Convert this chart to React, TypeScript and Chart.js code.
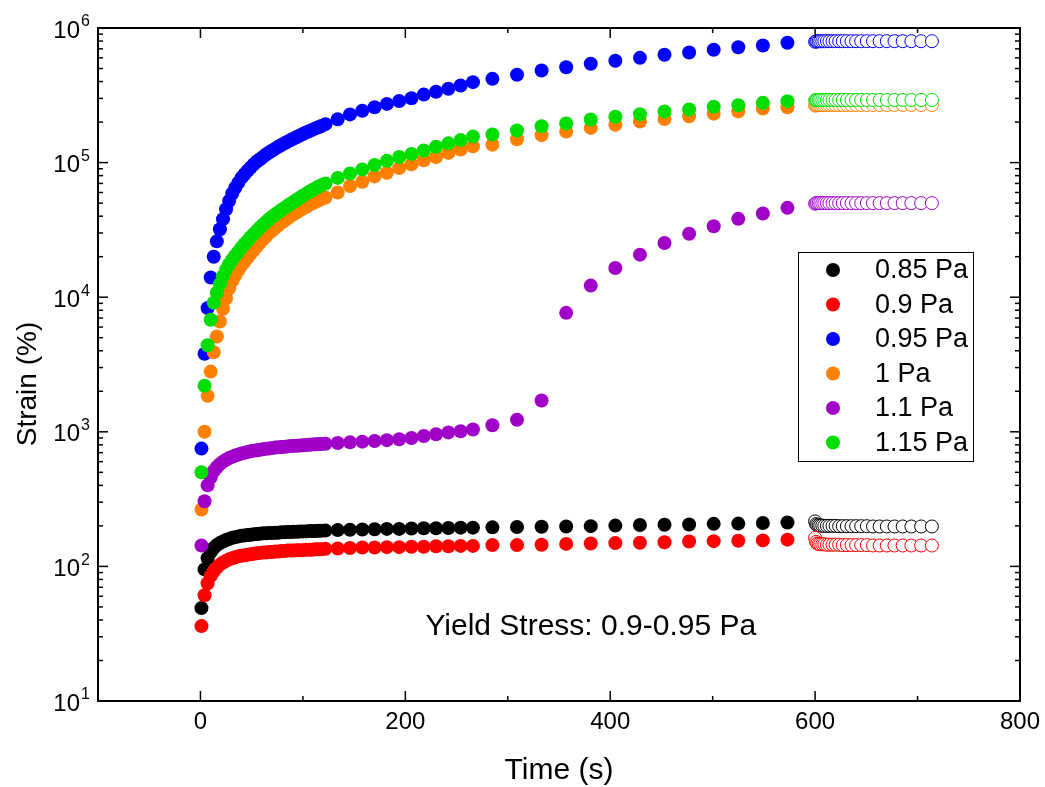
import React, { useEffect, useRef } from "react";
import { Chart, registerables } from "chart.js";

Chart.register(...registerables);

// ---------- data ----------
const SERIES_LABELS = ["0.85 Pa", "0.9 Pa", "0.95 Pa", "1 Pa", "1.1 Pa", "1.15 Pa"];
const SERIES_COLORS = ["#000000", "#ff0000", "#0000ff", "#ff8000", "#a000c8", "#00dd00"];

const TIME_CREEP = [
  1, 4, 7, 10, 13, 16, 19, 22, 25, 28,
  31, 34, 37, 40, 43, 46, 49, 52, 55, 58,
  61, 64, 67, 70, 73, 76, 79, 82, 85, 88,
  91, 94, 97, 100, 103, 106, 109, 112, 115, 118,
  122, 134, 146, 158, 170, 182, 194, 206, 218, 230, 242, 254, 266,
  285, 309, 333, 357, 381, 405, 429, 453, 477, 501, 525, 549, 573,
];

const TIME_RECOVERY = [
  600, 601, 602, 603.5, 605, 607, 609, 611.5, 614, 617, 620, 623.5, 627,
  631, 635.5, 640, 645, 650.5, 656.5, 663, 670, 677.5, 685.5, 694, 703.5, 714,
];

const CREEP_085 = [
  49, 95, 115, 128, 137, 144, 149, 153, 157, 160,
  163, 165, 167, 169, 170, 171, 172, 173, 174, 175,
  176, 176, 177, 177, 178, 178, 179, 179, 180, 180,
  181, 181, 182, 182, 182, 183, 183, 183, 184, 184,
  185, 186, 187, 188, 189, 190, 190, 191, 192, 192, 193, 194, 194,
  195, 196, 197, 198, 199, 201, 203, 204, 205, 207, 208, 210, 212,
];
const CREEP_090 = [
  36, 61, 75, 85, 92, 98, 103, 107, 110, 113,
  115, 117, 119, 120, 121, 122, 123, 124, 125, 126,
  127, 127, 128, 128, 129, 129, 130, 130, 131, 131,
  131, 132, 132, 132, 133, 133, 133, 134, 134, 134,
  135, 136, 137, 138, 138, 139, 139, 140, 140, 141, 141, 142, 142,
  144, 144, 145, 147, 148, 149, 150, 151, 153, 154, 155, 156, 158,
];
const CREEP_095 = [
  750, 3800, 8300, 14000, 20000, 26000, 32000, 38000, 45000, 52000,
  59000, 65000, 71000, 77000, 82000, 87000, 92000, 97000, 102000, 106000,
  110000, 115000, 119000, 123000, 127000, 131000, 135000, 139000, 143000, 147000,
  151000, 155000, 159000, 163000, 167000, 171000, 175000, 179000, 183000, 187000,
  193000, 210000, 228000, 243000, 258000, 273000, 287000, 301000, 320000, 336000, 354000, 374000, 396000,
  419000, 449000, 483000, 511000, 542000, 571000, 600000, 632000, 658000, 689000, 720000, 741000, 776000,
];
const CREEP_100 = [
  265, 1000, 1850, 2800, 3900, 5100, 6600, 8200, 9800, 11600,
  13200, 14500, 15900, 17200, 18300, 19700, 21000, 22400, 23900, 25400,
  26900, 28400, 29900, 31300, 32800, 34200, 35700, 37100, 38600, 40000,
  41400, 42800, 44200, 45600, 47000, 48300, 49600, 50900, 52200, 53500,
  55000, 60000, 67000, 72000, 79000, 84000, 91000, 97000, 104000, 110000, 118000, 125000, 132000,
  136000, 149000, 160000, 170000, 181000, 191000, 202000, 211000, 221000, 231000, 240000, 252000, 258000,
];
const CREEP_110 = [
  143, 305, 400, 460, 510, 545, 575, 600, 620, 638,
  653, 666, 678, 689, 699, 708, 716, 723, 730, 736,
  742, 748, 753, 758, 763, 767, 771, 775, 779, 783,
  786, 789, 792, 795, 798, 801, 804, 807, 810, 812,
  815, 825, 835, 845, 855, 867, 880, 900, 930, 960, 990, 1010, 1040,
  1120, 1230, 1710, 7650, 12200, 16500, 20700, 25300, 29600, 33700, 38200, 41900, 46100,
];
const CREEP_115 = [
  500, 2200, 4400, 6800, 9100, 10800, 12500, 14300, 16000, 17600,
  19000, 20400, 21800, 23300, 24800, 26300, 27900, 29500, 31100, 32800,
  34500, 36200, 37900, 39600, 41200, 42800, 44400, 46000, 47700, 49400,
  51200, 53000, 54800, 56700, 58600, 60500, 62400, 64300, 66100, 67800,
  70000, 77000, 83000, 89000, 96000, 103000, 110000, 116000, 123000, 131000, 139000, 147000, 156000,
  162000, 173000, 186000, 195000, 209000, 219000, 229000, 240000, 248000, 260000, 267000, 278000, 286000,
];

const RECOVERY_085 = [
  216, 206, 203, 202, 201, 201, 200, 200, 200, 200, 200, 199, 199,
  199, 199, 199, 199, 199, 198, 198, 198, 198, 198, 198, 198, 198,
];
const RECOVERY_090 = [
  163, 152, 148, 147, 146, 146, 146, 145, 145, 145, 145, 145, 144,
  144, 144, 144, 144, 144, 143, 143, 143, 143, 143, 143, 143, 143,
];
const RECOVERY_095 = [
  790000, 795000, 796000, 797000, 797000, 797000, 797000, 798000, 798000, 798000, 798000, 798000, 798000,
  798000, 798000, 798000, 798000, 798000, 798000, 798000, 798000, 798000, 798000, 798000, 798000, 798000,
];
const RECOVERY_100 = [
  265000, 267000, 267000, 268000, 268000, 268000, 268000, 268000, 268000, 268000, 268000, 268000, 268000,
  268000, 268000, 268000, 268000, 268000, 268000, 268000, 268000, 268000, 268000, 268000, 268000, 268000,
];
const RECOVERY_110 = [
  49500, 50000, 50000, 50000, 50000, 50000, 50000, 50000, 50000, 50000, 50000, 50000, 50000,
  50000, 50000, 50000, 50000, 50000, 50000, 50000, 50000, 50000, 50000, 50000, 50000, 50000,
];
const RECOVERY_115 = [
  290000, 292000, 292000, 292000, 292000, 292000, 292000, 292000, 292000, 292000, 292000, 292000, 292000,
  292000, 292000, 292000, 292000, 292000, 292000, 292000, 292000, 292000, 292000, 292000, 292000, 292000,
];

const CREEP_SERIES = [CREEP_085, CREEP_090, CREEP_095, CREEP_100, CREEP_110, CREEP_115];
const RECOVERY_SERIES = [RECOVERY_085, RECOVERY_090, RECOVERY_095, RECOVERY_100, RECOVERY_110, RECOVERY_115];

const X_MAJOR_TICKS = [0, 200, 400, 600, 800];
const X_MINOR_TICKS = [-100, 100, 300, 500, 700];
const Y_DECADES = [10, 100, 1000, 10000, 100000, 1000000];
const Y_DECADE_EXPONENTS = ["1", "2", "3", "4", "5", "6"];
const Y_MINOR_MULTIPLIERS = [2, 3, 4, 5, 6, 7, 8, 9];

const ANNOTATION = "Yield Stress: 0.9-0.95 Pa";
const X_TITLE = "Time (s)";
const Y_TITLE = "Strain (%)";

const FONT = "'Liberation Sans', Arial, Helvetica, sans-serif";

// ---------- drawing plugin ----------
const decorPlugin = {
  id: "decor",
  afterDatasetsDraw(chart: any) {
    const { ctx, chartArea: a } = chart;
    const xs = chart.scales.x;
    const ys = chart.scales.y;
    ctx.save();
    ctx.strokeStyle = "#000";
    ctx.fillStyle = "#000";

    const seg = (x1: number, y1: number, x2: number, y2: number) => {
      ctx.beginPath();
      ctx.moveTo(x1, y1);
      ctx.lineTo(x2, y2);
      ctx.stroke();
    };

    // ticks (inward, mirrored)
    ctx.lineWidth = 1.5;
    X_MAJOR_TICKS.forEach((v) => {
      const px = xs.getPixelForValue(v);
      seg(px, a.bottom, px, a.bottom - 10);
      seg(px, a.top, px, a.top + 10);
    });
    X_MINOR_TICKS.forEach((v) => {
      const px = xs.getPixelForValue(v);
      seg(px, a.bottom, px, a.bottom - 5);
      seg(px, a.top, px, a.top + 5);
    });
    Y_DECADES.forEach((d, i) => {
      const py = ys.getPixelForValue(d);
      seg(a.left, py, a.left + 10, py);
      seg(a.right, py, a.right - 10, py);
      if (i < Y_DECADES.length - 1) {
        Y_MINOR_MULTIPLIERS.forEach((m) => {
          const pm = ys.getPixelForValue(d * m);
          seg(a.left, pm, a.left + 5, pm);
          seg(a.right, pm, a.right - 5, pm);
        });
      }
    });

    // frame
    ctx.lineWidth = 2;
    ctx.strokeRect(a.left, a.top, a.right - a.left, a.bottom - a.top);

    // x tick labels
    ctx.font = `24px ${FONT}`;
    ctx.textAlign = "center";
    ctx.textBaseline = "middle";
    X_MAJOR_TICKS.forEach((v) => {
      ctx.fillText(String(v), xs.getPixelForValue(v), a.bottom + 21);
    });

    // y tick labels 10^n
    Y_DECADES.forEach((d, i) => {
      const py = ys.getPixelForValue(d);
      ctx.font = `24px ${FONT}`;
      ctx.textAlign = "right";
      ctx.textBaseline = "middle";
      ctx.fillText("10", a.left - 18, py + 3);
      ctx.font = `16px ${FONT}`;
      ctx.textAlign = "left";
      ctx.fillText(Y_DECADE_EXPONENTS[i], a.left - 17, py - 6);
    });

    // axis titles
    ctx.font = `30px ${FONT}`;
    ctx.textAlign = "center";
    ctx.textBaseline = "middle";
    ctx.fillText(X_TITLE, (a.left + a.right) / 2, a.bottom + 70);
    ctx.font = `28px ${FONT}`;
    ctx.save();
    ctx.translate(28, 384);
    ctx.rotate(-Math.PI / 2);
    ctx.fillText(Y_TITLE, 0, 0);
    ctx.restore();

    // annotation
    ctx.font = `30px ${FONT}`;
    ctx.textAlign = "center";
    ctx.fillText(ANNOTATION, xs.getPixelForValue(381), ys.getPixelForValue(35.5));

    // legend
    const lx = 798, ly = 252, lw = 175, lh = 209;
    ctx.fillStyle = "#fff";
    ctx.fillRect(lx, ly, lw, lh);
    ctx.lineWidth = 1;
    ctx.strokeStyle = "#000";
    ctx.strokeRect(lx + 0.5, ly + 0.5, lw, lh);
    ctx.font = `27px ${FONT}`;
    ctx.textAlign = "left";
    ctx.textBaseline = "middle";
    for (let i = 0; i < 6; i++) {
      const ds = chart.data.datasets[i];
      const cy = ly + 18 + i * 34.5;
      ctx.fillStyle = ds.backgroundColor;
      ctx.beginPath();
      ctx.arc(lx + 35, cy, 7, 0, Math.PI * 2);
      ctx.fill();
      ctx.fillStyle = "#000";
      ctx.fillText(ds.label, lx + 77, cy + 1);
    }
    ctx.restore();
  },
};

export default function App() {
  const ref = useRef<HTMLCanvasElement | null>(null);

  useEffect(() => {
    if (!ref.current) return;
    const filled = CREEP_SERIES.map((vals, i) => ({
      label: SERIES_LABELS[i],
      data: TIME_CREEP.map((t, j) => ({ x: t, y: vals[j] })),
      backgroundColor: SERIES_COLORS[i],
      borderColor: SERIES_COLORS[i],
      borderWidth: 0,
      pointRadius: 7,
      pointHoverRadius: 7,
      showLine: false,
      order: 20 - i,
    }));
    const open = RECOVERY_SERIES.map((vals, i) => ({
      label: SERIES_LABELS[i] + " recovery",
      data: TIME_RECOVERY.map((t, j) => ({ x: t, y: vals[j] })),
      backgroundColor: "#ffffff",
      borderColor: SERIES_COLORS[i],
      borderWidth: 1,
      pointRadius: 6.5,
      pointHoverRadius: 6.5,
      showLine: false,
      order: 10 - i,
    }));

    const chart = new Chart(ref.current, {
      type: "scatter",
      data: { datasets: [...filled, ...open] as any },
      options: {
        animation: false,
        responsive: false,
        events: [],
        layout: { padding: { left: 98, right: 25, top: 28, bottom: 86 } },
        plugins: { legend: { display: false }, tooltip: { enabled: false } },
        scales: {
          x: { type: "linear", min: -100, max: 800, display: false },
          y: { type: "logarithmic", min: 10, max: 1000000, display: false },
        },
      },
      plugins: [decorPlugin],
    });
    return () => chart.destroy();
  }, []);

  return (
    <div style={{ position: "absolute", left: 0, top: 0, width: 1045, height: 787, background: "#fff" }}>
      <canvas ref={ref} width={1045} height={787} style={{ display: "block" }} />
    </div>
  );
}
